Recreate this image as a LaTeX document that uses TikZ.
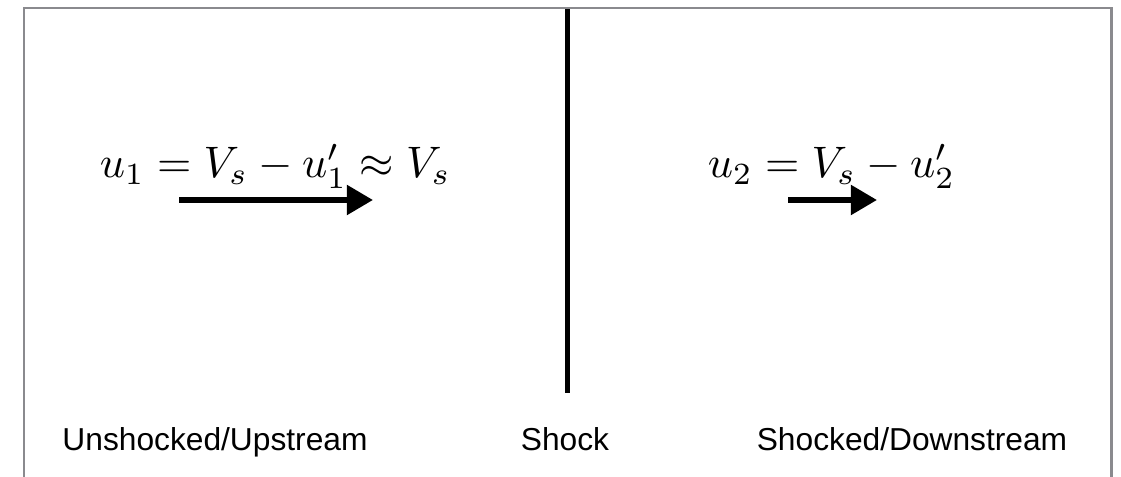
\documentclass[tikz,border=0pt]{standalone}
\usepackage{fontspec}
\newfontfamily\labelfont{Liberation Sans}
\usetikzlibrary{arrows.meta}
\definecolor{framegray}{RGB}{138,138,142}
\tikzset{
  frameline/.style={draw=framegray, line width=0.6pt},
  shockline/.style={draw=black, line width=1.15pt},
  flow/.style={draw=black, line width=1.3pt, -{Triangle[length=5.8pt,width=6.4pt]}},
  eqn/.style={inner sep=0pt, anchor=base west, scale=0.98},
  region/.style={inner sep=0pt, anchor=base, font=\labelfont\fontsize{7.05}{8.5}\selectfont},
}
\begin{document}
\begin{tikzpicture}[x=0.2222pt, y=-0.2222pt]
\useasboundingbox (0,0) rectangle (1121,477);
% frame (no bottom edge)
\coordinate (fbl) at (24,477);
\coordinate (ftl) at (24,8);
\coordinate (ftr) at (1111.5,8);
\coordinate (fbr) at (1111.5,477);
\draw[frameline] (fbl) -- (ftl) -- (ftr) -- (fbr);
% shock
\coordinate (stop) at (567.5,9.5);
\coordinate (sbot) at (567.5,393);
\draw[shockline] (stop) -- (sbot);
% equations
\node[eqn] (eq1) at (99,178) {$u_1 = V_s - u_1' \approx V_s$};
\node[eqn] (eq2) at (707,178) {$u_2 = V_s - u_2'$};
% arrows
\coordinate (a1s) at (179,200);
\coordinate (a1e) at (373,200);
\coordinate (a2s) at (788,200);
\coordinate (a2e) at (877,200);
\draw[flow] (a1s) -- (a1e);
\draw[flow] (a2s) -- (a2e);
% labels
\node[region] (up) at (215,451) {Unshocked/Upstream};
\node[region] (sh) at (565,451) {Shock};
\node[region] (down) at (912,451) {Shocked/Downstream};
\end{tikzpicture}
\end{document}
